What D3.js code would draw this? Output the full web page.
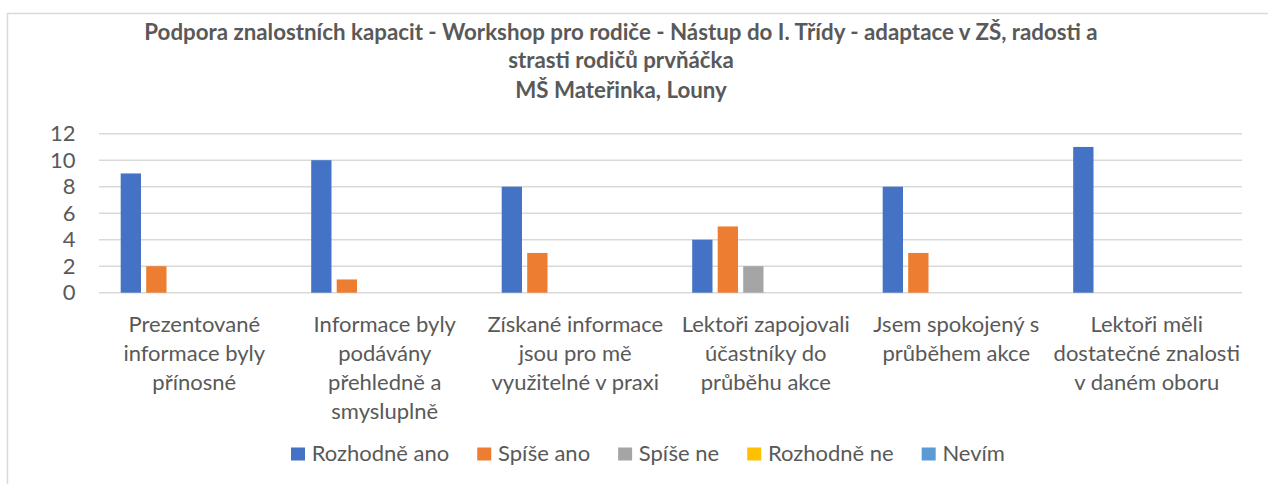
<!DOCTYPE html>
<html>
<head>
<meta charset="utf-8">
<script src="https://cdn.jsdelivr.net/npm/d3@7"></script>
<style>
  body { margin: 0; background: #fff; }
  text { font-family: Lato, "Open Sans", sans-serif; fill: #595959; }
</style>
</head>
<body>
<div id="my_dataviz"></div>
<script>
// data
var categories = [
    ["Prezentované", "informace byly", "přínosné"],
    ["Informace byly", "podávány", "přehledně a", "smysluplně"],
    ["Získané informace", "jsou pro mě", "využitelné v praxi"],
    ["Lektoři zapojovali", "účastníky do", "průběhu akce"],
    ["Jsem spokojený s", "průběhem akce"],
    ["Lektoři měli", "dostatečné znalosti", "v daném oboru"]
];
var seriesNames = ["Rozhodně ano", "Spíše ano", "Spíše ne", "Rozhodně ne", "Nevím"];
var rozhodneAno = [9, 10, 8, 4, 8, 11];
var spiseAno = [2, 1, 3, 5, 3, 0];
var spiseNe = [0, 0, 0, 2, 0, 0];
var rozhodneNe = [0, 0, 0, 0, 0, 0];
var nevim = [0, 0, 0, 0, 0, 0];
var yTicks = [0, 2, 4, 6, 8, 10, 12];
var titleLines = [
    "Podpora znalostních kapacit - Workshop pro rodiče - Nástup do I. Třídy - adaptace v ZŠ, radosti a",
    "strasti rodičů prvňáčka",
    "MŠ Mateřinka, Louny"
];
var colors = ["#4472C4", "#ED7D31", "#A5A5A5", "#FFC000", "#5B9BD5"];

var allValues = [rozhodneAno, spiseAno, spiseNe, rozhodneNe, nevim];
var catIds = categories.map(function (d, i) { return i; });

var width = 1268, height = 484;

var svg = d3.select("#my_dataviz")
    .append("svg")
    .attr("width", width)
    .attr("height", height);

// chart border
svg.append("rect")
    .attr("x", 7.5).attr("y", 13.5)
    .attr("width", 1300).attr("height", 500)
    .attr("fill", "none")
    .attr("stroke", "#d9d9d9")
    .attr("stroke-width", 1.5);

// title
svg.append("g").selectAll("text")
    .data(titleLines)
    .enter()
    .append("text")
    .attr("x", 621)
    .attr("y", function (d, i) { return [39.5, 68.3, 98][i]; })
    .attr("text-anchor", "middle")
    .style("font-size", "22.3px")
    .style("font-weight", "bold")
    .text(function (d) { return d; });

// scales
var x = d3.scaleBand()
    .domain(catIds)
    .range([99, 1242])
    .padding(0);

var xSub = d3.scaleBand()
    .domain(seriesNames)
    .range([21.7, 144])
    .paddingInner(0.204)
    .paddingOuter(0);

var y = d3.scaleLinear()
    .domain([0, 12])
    .range([292.7, 133.7]);

// gridlines
svg.append("g").selectAll("line")
    .data(yTicks)
    .enter()
    .append("line")
    .attr("x1", 99).attr("x2", 1242)
    .attr("y1", function (d) { return y(d); })
    .attr("y2", function (d) { return y(d); })
    .attr("stroke", "#d9d9d9")
    .attr("stroke-width", 1.5);

// y labels
svg.append("g").selectAll("text")
    .data(yTicks)
    .enter()
    .append("text")
    .attr("x", 75.5)
    .attr("y", function (d) { return y(d) + 7.5; })
    .attr("text-anchor", "end")
    .style("font-size", "22px")
    .text(function (d) { return d; });

// bars
var groups = svg.append("g").selectAll("g")
    .data(catIds)
    .enter()
    .append("g")
    .attr("transform", function (d) { return "translate(" + x(d) + ",0)"; });

groups.selectAll("rect")
    .data(function (c) {
        return seriesNames.map(function (s, si) { return { s: s, si: si, v: allValues[si][c] }; });
    })
    .enter()
    .append("rect")
    .filter(function (d) { return d.v > 0; })
    .attr("x", function (d) { return xSub(d.s); })
    .attr("width", xSub.bandwidth())
    .attr("y", function (d) { return y(d.v); })
    .attr("height", function (d) { return y(0) - y(d.v); })
    .attr("fill", function (d) { return colors[d.si]; });

// category labels
var catLabels = svg.append("g").selectAll("text")
    .data(catIds)
    .enter()
    .append("text")
    .attr("x", function (d) { return x(d) + x.bandwidth() / 2; })
    .attr("y", 332)
    .attr("text-anchor", "middle")
    .style("font-size", "22px");

catLabels.selectAll("tspan")
    .data(function (d) { return categories[d]; })
    .enter()
    .append("tspan")
    .attr("x", function () { return d3.select(this.parentNode).attr("x"); })
    .attr("dy", function (d, i) { return i === 0 ? 0 : 29; })
    .text(function (d) { return d; });

// legend
var legend = svg.append("g");
var lx = 291;
seriesNames.forEach(function (name, i) {
    legend.append("rect")
        .attr("x", lx).attr("y", 447.5)
        .attr("width", 14).attr("height", 13)
        .attr("fill", colors[i]);
    var t = legend.append("text")
        .attr("x", lx + 20.7)
        .attr("y", 461)
        .style("font-size", "22px")
        .text(name);
    lx += 20.7 + t.node().getComputedTextLength() + 28;
});
</script>
</body>
</html>
